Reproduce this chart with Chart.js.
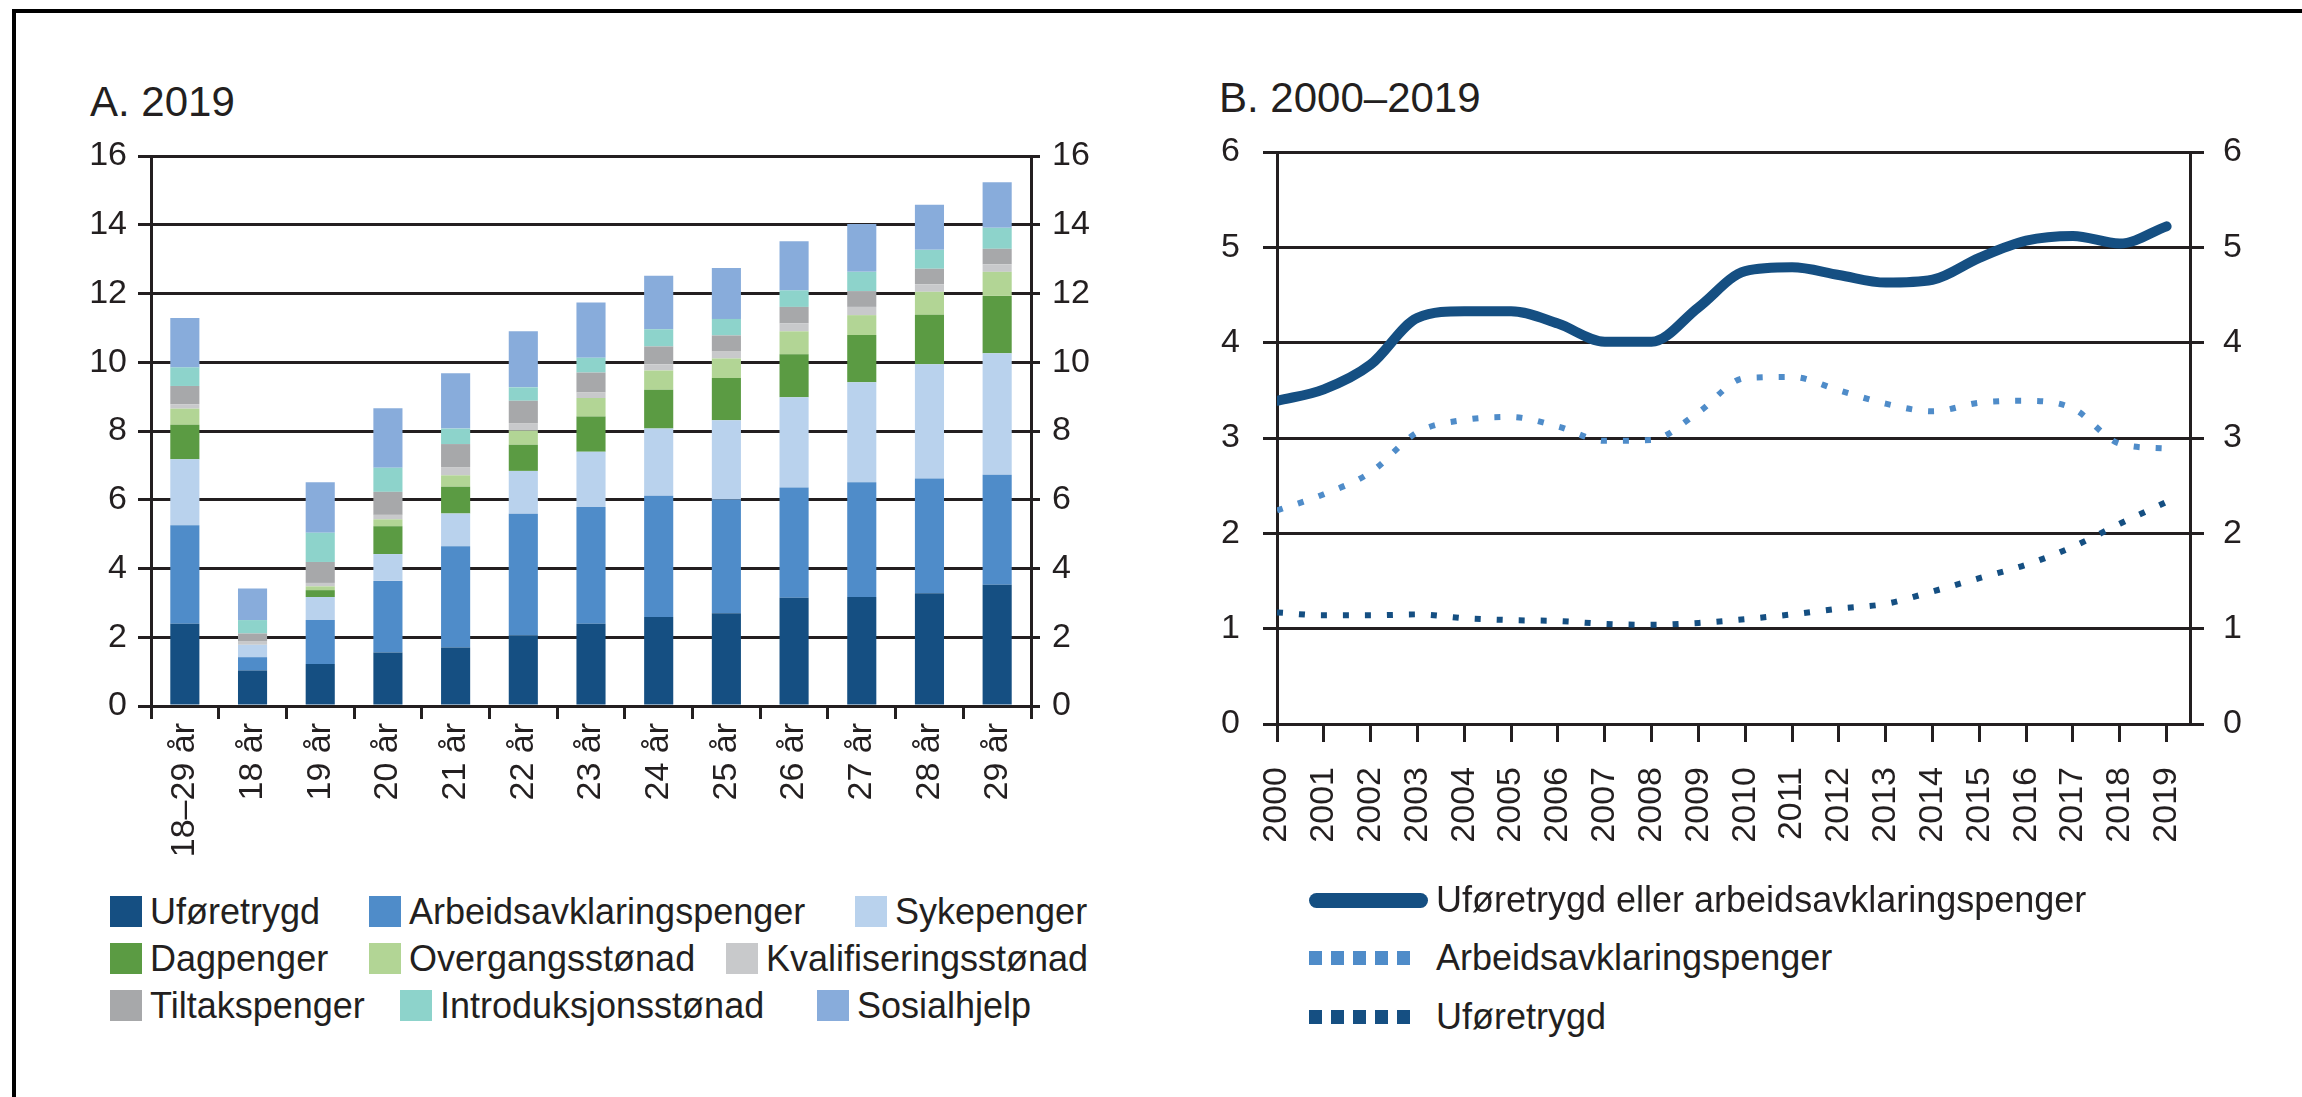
<!DOCTYPE html>
<html lang="no">
<head>
<meta charset="utf-8">
<title>Ytelser blant unge 18–29 år</title>
<script src="https://cdn.jsdelivr.net/npm/chart.js@4.4.1/dist/chart.umd.min.js"></script>
<style>
  html, body { margin: 0; padding: 0; background: #fff; }
  body {
    width: 2302px; height: 1097px; position: relative; overflow: hidden;
    font-family: "Liberation Sans", Arial, sans-serif; color: #231f20;
  }
  .frame-top { position: absolute; left: 12px; top: 9px; right: 0; height: 4px; background: #000; }
  .frame-left { position: absolute; left: 12px; top: 9px; bottom: 0; width: 4px; background: #000; }
  canvas { position: absolute; top: 0; }
  #barChart { left: 0; }
  #lineChart { left: 1150px; }
  .title { position: absolute; font-size: 42px; line-height: 1; white-space: nowrap; }
  .item { position: absolute; display: flex; align-items: center; font-size: 36px; line-height: 1; white-space: nowrap; }
  .swatch { width: 32px; height: 31px; margin-right: 8px; flex: none; }
  .sample { flex: none; margin-right: 8px; }
</style>
</head>
<body>
<div class="frame-top"></div>
<div class="frame-left"></div>

<div class="title" style="left:90px; top:81px;">A. 2019</div>
<div class="title" style="left:1219px; top:77px;">B. 2000–2019</div>

<canvas id="barChart" width="1150" height="876"></canvas>
<canvas id="lineChart" width="1152" height="880"></canvas>

<div id="barLegend"></div>
<div id="lineLegend"></div>

<script>
// A. 2019 – andel (prosent) etter alder
const ageGroups = ['18–29 år', '18 år', '19 år', '20 år', '21 år', '22 år', '23 år',
                   '24 år', '25 år', '26 år', '27 år', '28 år', '29 år'];
const uforetrygd       = [2.39, 1.03, 1.22, 1.56, 1.70, 2.06, 2.39, 2.59, 2.70, 3.15, 3.17, 3.28, 3.53];
const arbeidsavklaring = [2.87, 0.39, 1.28, 2.08, 2.95, 3.53, 3.40, 3.53, 3.31, 3.21, 3.34, 3.34, 3.20];
const sykepenger       = [1.92, 0.36, 0.67, 0.78, 0.95, 1.25, 1.61, 1.95, 2.30, 2.62, 2.91, 3.32, 3.53];
const dagpenger        = [1.00, 0.00, 0.20, 0.81, 0.78, 0.76, 1.02, 1.13, 1.23, 1.25, 1.37, 1.44, 1.67];
const overgangsstonad  = [0.47, 0.00, 0.11, 0.20, 0.33, 0.41, 0.54, 0.56, 0.57, 0.67, 0.58, 0.67, 0.70];
const kvalifisering    = [0.13, 0.11, 0.10, 0.13, 0.24, 0.22, 0.16, 0.18, 0.20, 0.23, 0.24, 0.22, 0.22];
const tiltakspenger    = [0.53, 0.22, 0.61, 0.67, 0.67, 0.65, 0.58, 0.52, 0.47, 0.48, 0.46, 0.45, 0.45];
const introduksjon     = [0.54, 0.39, 0.85, 0.70, 0.45, 0.39, 0.43, 0.50, 0.48, 0.48, 0.56, 0.55, 0.61];
const sosialhjelp      = [1.44, 0.92, 1.47, 1.73, 1.61, 1.63, 1.61, 1.56, 1.48, 1.43, 1.39, 1.31, 1.33];
const barTicks = [0, 2, 4, 6, 8, 10, 12, 14, 16];

// B. 2000–2019
const years = [2000, 2001, 2002, 2003, 2004, 2005, 2006, 2007, 2008, 2009,
               2010, 2011, 2012, 2013, 2014, 2015, 2016, 2017, 2018, 2019];
const uforeEllerAap = [3.39, 3.51, 3.77, 4.26, 4.33, 4.33, 4.20, 4.01, 4.01, 4.37,
                       4.75, 4.79, 4.71, 4.63, 4.66, 4.89, 5.07, 5.12, 5.04, 5.22];
const aapSerie      = [2.24, 2.41, 2.64, 3.06, 3.19, 3.22, 3.12, 2.97, 2.98, 3.27,
                       3.63, 3.64, 3.50, 3.36, 3.28, 3.37, 3.39, 3.31, 2.94, 2.89];
const uforeSerie    = [1.17, 1.14, 1.14, 1.15, 1.11, 1.09, 1.08, 1.05, 1.04, 1.06,
                       1.10, 1.15, 1.21, 1.26, 1.39, 1.53, 1.67, 1.86, 2.10, 2.33];
const lineTicks = [0, 1, 2, 3, 4, 5, 6];

const ink = '#231f20';
const font = { family: '"Liberation Sans", Arial, sans-serif', size: 34 };

const barSeries = [
    { label: 'Uføretrygd',              data: uforetrygd,       color: '#154f82' },
    { label: 'Arbeidsavklaringspenger', data: arbeidsavklaring, color: '#4f8cc9' },
    { label: 'Sykepenger',              data: sykepenger,       color: '#b9d2ed' },
    { label: 'Dagpenger',               data: dagpenger,        color: '#5b9b43' },
    { label: 'Overgangsstønad',         data: overgangsstonad,  color: '#b2d595' },
    { label: 'Kvalifiseringsstønad',    data: kvalifisering,    color: '#c8c9cb' },
    { label: 'Tiltakspenger',           data: tiltakspenger,    color: '#a7a8aa' },
    { label: 'Introduksjonsstønad',     data: introduksjon,     color: '#8dd3cb' },
    { label: 'Sosialhjelp',             data: sosialhjelp,      color: '#88acdb' }
];

Chart.defaults.animation = false;
Chart.defaults.color = ink;

function yAxis(pos, max, step, width, tickLen, pad, onArea) {
    return {
        position: pos,
        min: 0, max: max,
        afterFit: s => { s.width = width; },
        grid: { color: ink, lineWidth: 3, tickLength: tickLen, drawOnChartArea: onArea, tickColor: ink },
        border: { display: true, color: ink, width: 3 },
        ticks: { stepSize: step, padding: pad, font: font, color: ink }
    };
}

const barChart = new Chart(document.getElementById('barChart'), {
    type: 'bar',
    data: {
        labels: ageGroups,
        datasets: barSeries.map(s => ({
            label: s.label,
            data: s.data,
            backgroundColor: s.color,
            borderWidth: 0,
            barPercentage: 0.43,
            categoryPercentage: 1
        }))
    },
    options: {
        responsive: false,
        layout: { padding: { top: 156, left: 0, right: 0, bottom: 0 } },
        plugins: { legend: { display: false }, tooltip: { enabled: false } },
        scales: {
            x: {
                stacked: true,
                afterFit: s => { s.height = 170; },
                grid: { offset: true, drawOnChartArea: false, color: ink, lineWidth: 3, tickLength: 13 },
                border: { display: true, color: ink, width: 3 },
                ticks: { minRotation: 90, maxRotation: 90, padding: 4, font: font, color: ink, autoSkip: false }
            },
            y: Object.assign(yAxis('left', barTicks[barTicks.length - 1], 2, 151, 13, 11, true), { stacked: true }),
            y2: yAxis('right', barTicks[barTicks.length - 1], 2, 119, 9, 12, false)
        }
    }
});

const lineChart = new Chart(document.getElementById('lineChart'), {
    type: 'line',
    data: {
        datasets: [
            {
                label: 'Uføretrygd eller arbeidsavklaringspenger',
                data: years.map((y, i) => ({ x: y, y: uforeEllerAap[i] })),
                borderColor: '#154f82', borderWidth: 10, pointRadius: 0,
                cubicInterpolationMode: 'monotone', borderCapStyle: 'round'
            },
            {
                label: 'Arbeidsavklaringspenger',
                data: years.map((y, i) => ({ x: y, y: aapSerie[i] })),
                borderColor: '#4f8cc9', borderWidth: 6, borderDash: [6, 16], pointRadius: 0,
                cubicInterpolationMode: 'monotone'
            },
            {
                label: 'Uføretrygd',
                data: years.map((y, i) => ({ x: y, y: uforeSerie[i] })),
                borderColor: '#154f82', borderWidth: 6, borderDash: [6, 16], pointRadius: 0,
                cubicInterpolationMode: 'monotone'
            }
        ]
    },
    options: {
        responsive: false,
        layout: { padding: { top: 152, left: 0, right: 0, bottom: 0 } },
        plugins: { legend: { display: false }, tooltip: { enabled: false } },
        scales: {
            x: {
                type: 'linear',
                min: years[0], max: years[years.length - 1] + 0.5,
                bounds: 'data',
                afterFit: s => { s.height = 156; },
                grid: { drawOnChartArea: false, color: ink, lineWidth: 3, tickLength: 18 },
                border: { display: true, color: ink, width: 3 },
                ticks: {
                    stepSize: 1, includeBounds: false, autoSkip: false,
                    minRotation: 90, maxRotation: 90, padding: 25, font: font, color: ink,
                    callback: v => String(v)
                }
            },
            y: yAxis('left', lineTicks[lineTicks.length - 1], 1, 127, 14, 23, true),
            y2: yAxis('right', lineTicks[lineTicks.length - 1], 1, 112, 14, 19, false)
        }
    }
});

// legends
const barLegendCols = [[110, 369, 855], [110, 369, 726], [110, 400, 817]];
const barLegendTop = [896, 943, 990];
const barLegend = document.getElementById('barLegend');
barSeries.forEach((s, i) => {
    const row = Math.floor(i / 3), col = i % 3;
    const el = document.createElement('div');
    el.className = 'item';
    el.style.left = barLegendCols[row][col] + 'px';
    el.style.top = barLegendTop[row] + 'px';
    el.style.height = '31px';
    el.innerHTML = '<span class="swatch" style="background:' + s.color + '"></span><span>' + s.label + '</span>';
    barLegend.appendChild(el);
});

const lineLegend = document.getElementById('lineLegend');
const lineLegendTop = [882, 940, 999];
lineChart.data.datasets.forEach((ds, i) => {
    const el = document.createElement('div');
    el.className = 'item';
    el.style.left = '1309px';
    el.style.top = lineLegendTop[i] + 'px';
    el.style.height = '36px';
    let sample;
    if (!ds.borderDash) {
        sample = '<span class="sample" style="width:119px;height:15px;border-radius:8px;background:' + ds.borderColor + '"></span>';
    } else {
        sample = '<span class="sample" style="width:101px;height:14px;margin-right:26px;background:repeating-linear-gradient(to right,' +
                 ds.borderColor + ' 0 13px, transparent 13px 22px)"></span>';
    }
    el.innerHTML = sample + '<span>' + ds.label + '</span>';
    lineLegend.appendChild(el);
});
</script>
</body>
</html>
